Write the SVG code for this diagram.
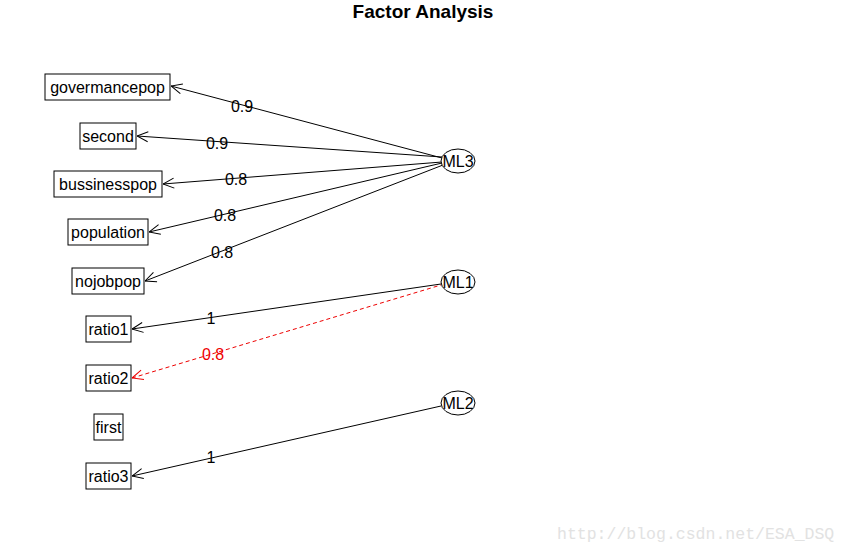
<svg xmlns="http://www.w3.org/2000/svg" width="848" height="552" viewBox="0 0 848 552">
<defs>
<marker id="ah" markerWidth="12" markerHeight="12" refX="0" refY="6" orient="auto" markerUnits="userSpaceOnUse" viewBox="0 0 12 12">
<path d="M11,1 L0,6 L11,11" fill="none" stroke="#000" stroke-width="1"/>
</marker>
<marker id="ahr" markerWidth="12" markerHeight="12" refX="0" refY="6" orient="auto" markerUnits="userSpaceOnUse" viewBox="0 0 12 12">
<path d="M11,1 L0,6 L11,11" fill="none" stroke="#e00" stroke-width="1"/>
</marker>
</defs>
<style>
.box{fill:#fff;stroke:#000;stroke-width:1}
.lbl{font-family:"Liberation Sans",Arial,sans-serif;font-size:16px;fill:#000;text-anchor:middle;dominant-baseline:central}
.ell{fill:#fff;stroke:#000;stroke-width:1}
.edge{stroke:#000;stroke-width:1;fill:none;marker-start:url(#ah)}
.red{stroke:#e00;stroke-dasharray:4,3;marker-start:url(#ahr)}
.el{font-family:"Liberation Sans",Arial,sans-serif;font-size:16px;fill:#000;text-anchor:middle;dominant-baseline:central}
</style>
<rect width="848" height="552" fill="#fff"/>
<text x="423" y="18" font-family="Liberation Sans,Arial,sans-serif" font-size="19" font-weight="bold" text-anchor="middle">Factor Analysis</text>
<g id="connectors">
<line class="edge" x1="171" y1="86" x2="442" y2="158"/>
<line class="edge" x1="137" y1="136" x2="442" y2="157"/>
<line class="edge" x1="163" y1="184" x2="442" y2="162"/>
<line class="edge" x1="149" y1="232" x2="442" y2="163"/>
<line class="edge" x1="145" y1="281" x2="443" y2="165"/>
<line class="edge" x1="132" y1="329" x2="441" y2="284"/>
<line class="edge red" x1="132" y1="378" x2="441" y2="285"/>
<line class="edge" x1="132" y1="476" x2="441" y2="406"/>
<text class="el" x="242" y="106">0.9</text>
<text class="el" x="217" y="143">0.9</text>
<text class="el" x="236" y="179">0.8</text>
<text class="el" x="225" y="215">0.8</text>
<text class="el" x="222" y="252">0.8</text>
<text class="el" x="211" y="318">1</text>
<text class="el" x="213" y="354" style="fill:#e00">0.8</text>
<text class="el" x="211" y="457">1</text>
</g>
<g id="governancepop"><rect class="box" x="45" y="74" width="125" height="26"/><text class="lbl" x="107.5" y="87">govermancepop</text></g>
<g id="second"><rect class="box" x="80" y="123" width="56" height="26"/><text class="lbl" x="108" y="136">second</text></g>
<g id="bussinesspop"><rect class="box" x="54" y="171" width="108" height="26"/><text class="lbl" x="108" y="184">bussinesspop</text></g>
<g id="population"><rect class="box" x="68" y="219" width="80" height="26"/><text class="lbl" x="108" y="232">population</text></g>
<g id="nojobpop"><rect class="box" x="72" y="268" width="72" height="26"/><text class="lbl" x="108" y="281">nojobpop</text></g>
<g id="ratio1"><rect class="box" x="86" y="316" width="45" height="26"/><text class="lbl" x="108.5" y="329">ratio1</text></g>
<g id="ratio2"><rect class="box" x="86" y="365" width="45" height="26"/><text class="lbl" x="108.5" y="378">ratio2</text></g>
<g id="first"><rect class="box" x="94" y="414" width="29" height="26"/><text class="lbl" x="108.5" y="427">first</text></g>
<g id="ratio3"><rect class="box" x="86" y="463" width="45" height="26"/><text class="lbl" x="108.5" y="476">ratio3</text></g>
<g id="ML3"><ellipse class="ell" cx="458" cy="161" rx="17" ry="12"/><text class="lbl" x="458" y="161">ML3</text></g>
<g id="ML1"><ellipse class="ell" cx="458" cy="282" rx="17" ry="12"/><text class="lbl" x="458" y="282">ML1</text></g>
<g id="ML2"><ellipse class="ell" cx="458" cy="403" rx="17" ry="12"/><text class="lbl" x="458" y="403">ML2</text></g>
<text x="557" y="539" font-family="Liberation Mono,monospace" font-size="16.5" fill="#e2e2e2">http://blog.csdn.net/ESA_DSQ</text>
</svg>
